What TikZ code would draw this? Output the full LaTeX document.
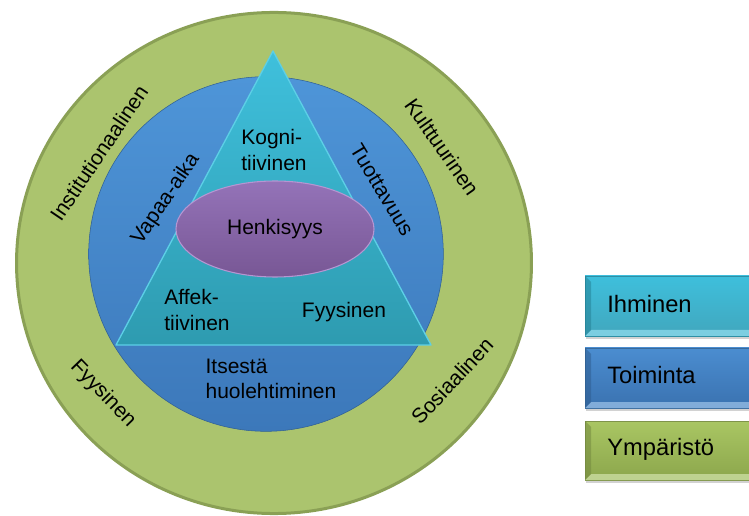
\documentclass[tikz,border=0pt]{standalone}
\usepackage{fontspec}
\setmainfont{Liberation Sans}
\usetikzlibrary{shapes.geometric,shadows}
\definecolor{gfill}{HTML}{ABC46E}
\definecolor{gborder}{HTML}{8AA055}
\definecolor{btop}{HTML}{4E95D8}
\definecolor{bbot}{HTML}{3C78BA}
\definecolor{ttop}{HTML}{3FC0DC}
\definecolor{tbot}{HTML}{2E9BB0}
\definecolor{tedge}{HTML}{5CCFE6}
\definecolor{ptop}{HTML}{9473B8}
\definecolor{pbot}{HTML}{785795}
\definecolor{pedge}{HTML}{B596D2}
\definecolor{lcyan}{HTML}{3EBFDC}
\definecolor{lcyand}{HTML}{2C9DB6}
\definecolor{lblue}{HTML}{4B8DD0}
\definecolor{lblued}{HTML}{3A72B0}
\definecolor{lgreen}{HTML}{A9C663}
\definecolor{lgreend}{HTML}{8CA64C}
\begin{document}
\begin{tikzpicture}[x=0.75pt,y=-0.75pt,
  lbl/.style={font=\fontsize{15.75}{17.3}\selectfont, text=black, inner sep=0pt},
  leglbl/.style={font=\fontsize{17.8}{20}\selectfont, text=black, inner sep=0pt, anchor=west},
  legbox/.style={draw=#1!75!black, line width=0.6pt, drop shadow={shadow xshift=1pt, shadow yshift=-2pt, opacity=0.35}}
]
\useasboundingbox (0,0) rectangle (749,516);
\fill[white] (0,0) rectangle (749,516);

% outer green ring
\draw[gborder, line width=2.25pt, fill=gfill] (274,263) ellipse [x radius=193.1pt, y radius=187.9pt];

% blue circle
\shade[top color=btop, bottom color=bbot, draw=bbot!80!black, line width=0.4pt] (266,254) circle [radius=133pt];

% triangle
\coordinate (apex) at (273,51);
\coordinate (bl) at (116,345);
\coordinate (br) at (431,345);
\shade[top color=ttop, bottom color=tbot] (apex) -- (br) -- (bl) -- cycle;
\draw[tedge, line width=1pt, line join=round] (apex) -- (br) -- (bl) -- cycle;

% ellipse
\node[ellipse, minimum width=148.5pt, minimum height=72pt, top color=ptop, bottom color=pbot, draw=pedge, line width=0.8pt] (henk) at (275,229) {};
\node[lbl] (henkt) at (275,229) {Henkisyys};

% inner labels
\node[lbl, align=left] (kog) at (274,150) {Kogni-\\[2pt]tiivinen};
\node[lbl, align=left] (aff) at (197,310) {Affek-\\[2pt]tiivinen};
\node[lbl] (fyy) at (344,312) {Fyysinen};
\node[lbl, align=left] (its) at (271,379) {Itsestä\\[2pt]huolehtiminen};
\node[lbl, rotate=56] (vap) at (166,199) {Vapaa-aika};
\node[lbl, rotate=-59] (tuo) at (382,190) {Tuottavuus};

% outer labels
\node[lbl, rotate=56] (ins) at (99,153) {Institutionaalinen};
\node[lbl, rotate=-55] (kul) at (442,147) {Kulttuurinen};
\node[lbl, rotate=-46] (fyo) at (103,394) {Fyysinen};
\node[lbl, rotate=47] (sos) at (452,381) {Sosiaalinen};

% legend boxes with bevel
\shade[legbox=lcyan, top color=lcyan, bottom color=lcyand!90!white] (585,276) rectangle (760,336);
\fill[lcyan!60!white, opacity=0.8] (585,336) -- (591,330) -- (760,330) -- (760,336) -- cycle;
\fill[lcyand!80!black, opacity=0.5] (585,276) -- (591,282) -- (591,330) -- (585,336) -- cycle;

\shade[legbox=lblue, top color=lblue, bottom color=lblued] (585,348) rectangle (760,408);
\fill[lblue!60!white, opacity=0.8] (585,408) -- (591,402) -- (760,402) -- (760,408) -- cycle;
\fill[lblued!80!black, opacity=0.5] (585,348) -- (591,354) -- (591,402) -- (585,408) -- cycle;

\shade[legbox=lgreen, top color=lgreen, bottom color=lgreend] (585,421) rectangle (760,480);
\fill[lgreen!60!white, opacity=0.8] (585,480) -- (591,474) -- (760,474) -- (760,480) -- cycle;
\fill[lgreend!80!black, opacity=0.5] (585,421) -- (591,427) -- (591,474) -- (585,480) -- cycle;

\node[leglbl] (ih) at (607,304) {Ihminen};
\node[leglbl] (to) at (607,375) {Toiminta};
\node[leglbl] (ym) at (607,449) {Ympäristö};
\end{tikzpicture}
\end{document}
